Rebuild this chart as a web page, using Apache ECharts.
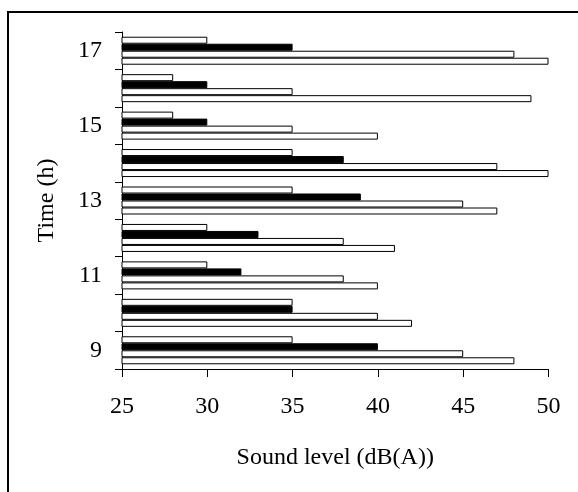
<!DOCTYPE html>
<html>
<head>
<meta charset="utf-8">
<script src="https://cdn.jsdelivr.net/npm/echarts@6/dist/echarts.min.js"></script>
<style>
html,body{margin:0;padding:0;background:#fff;}
#chart{width:578px;height:492px;}
</style>
</head>
<body>
<div id="chart"></div>
<script>
var hours = ['9','10','11','12','13','14','15','16','17'];
// bars listed from top to bottom within each hour group
var barTopWhite    = [35, 35, 30, 30, 35, 35, 28, 28, 30];
var barBlack       = [40, 35, 32, 33, 39, 38, 30, 30, 35];
var barMidWhite    = [45, 40, 38, 38, 45, 47, 35, 35, 48];
var barBottomWhite = [48, 42, 40, 41, 47, 50, 40, 49, 50];
var xTicks = [25, 30, 35, 40, 45, 50];

var FONT = '"Liberation Serif", "Times New Roman", serif';
var chart = echarts.init(document.getElementById('chart'), null, {renderer: 'canvas'});

function barSeries(name, data, color) {
  return {
    name: name,
    type: 'bar',
    data: data,
    barWidth: 7,
    barGap: '0%',
    itemStyle: {color: color, borderColor: '#000', borderWidth: 1},
    emphasis: {disabled: true},
    animation: false
  };
}

chart.setOption({
  animation: false,
  backgroundColor: '#fff',
  graphic: [{
    type: 'rect',
    shape: {x: 8, y: 12, width: 700, height: 700},
    style: {fill: 'none', stroke: '#000', lineWidth: 2},
    silent: true
  }],
  grid: {left: 122, top: 32, right: 29.5, bottom: 123, containLabel: false},
  xAxis: {
    type: 'value',
    min: xTicks[0], max: xTicks[xTicks.length - 1], interval: 5,
    name: 'Sound level (dB(A))',
    nameLocation: 'middle',
    nameGap: 77,
    nameTextStyle: {fontFamily: FONT, fontSize: 24, color: '#000'},
    axisLine: {show: true, lineStyle: {color: '#000', width: 1}},
    axisTick: {show: true, inside: false, length: 8, lineStyle: {color: '#000'}},
    axisLabel: {fontFamily: FONT, fontSize: 24, color: '#000', margin: 26},
    splitLine: {show: false}
  },
  yAxis: {
    type: 'category',
    data: hours,
    name: 'Time (h)',
    nameLocation: 'middle',
    nameGap: 63,
    nameRotate: 90,
    nameTextStyle: {fontFamily: FONT, fontSize: 24, color: '#000'},
    axisLine: {show: true, lineStyle: {color: '#000', width: 1}},
    axisTick: {show: true, inside: false, length: 7, interval: 0, alignWithLabel: false, lineStyle: {color: '#000'}},
    axisLabel: {fontFamily: FONT, fontSize: 24, color: '#000', margin: 20, interval: 1},
    splitLine: {show: false}
  },
  series: [
    barSeries('a', barTopWhite, '#fff'),
    barSeries('b', barBlack, '#000'),
    barSeries('c', barMidWhite, '#fff'),
    barSeries('d', barBottomWhite, '#fff')
  ]
});
</script>
</body>
</html>
